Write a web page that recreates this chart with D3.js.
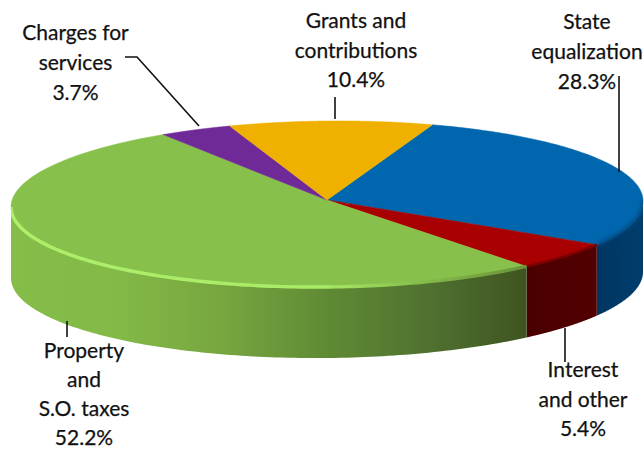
<!DOCTYPE html>
<html>
<head>
<meta charset="utf-8">
<script src="https://cdn.jsdelivr.net/npm/d3@7/dist/d3.min.js"></script>
<style>
html,body{margin:0;padding:0;background:#fff}
svg{display:block}
text{font-family:Lato,"Open Sans",sans-serif;font-size:21px;fill:#111;stroke:#111;stroke-width:0.25px}
</style>
</head>
<body>
<svg id="chart" width="644" height="450"></svg>
<script>
// Revenue shares, listed clockwise from the top of the disc
const categories = ["State equalization", "Interest and other", "Property and S.O. taxes", "Charges for services", "Grants and contributions"];
const shares = [28.3, 5.4, 52.2, 3.7, 10.4];
const topColors = ["#0066ad", "#a80000", "#88c04c", "#702a98", "#f0b000"];

// Label text lines for each category
const labelLines = [
  ["State", "equalization", "28.3%"],
  ["Interest", "and other", "5.4%"],
  ["Property", "and", "S.O. taxes", "52.2%"],
  ["Charges for", "services", "3.7%"],
  ["Grants and", "contributions", "10.4%"]
];

const svg = d3.select("#chart");
const deg = Math.PI / 180;

// Disc geometry: unit circle mapped onto the tilted ellipse
const x = d3.scaleLinear().domain([-1, 1]).range([11, 643]);
const y = d3.scaleLinear().domain([-1, 1]).range([121, 287]);
const tilt = 3;
const depth = 71;
const apex = [327, 200];

const rim = t => [x(Math.sin(t)), y(-Math.cos(t)) - tilt * Math.sin(t)];
const line = d3.line();
const arcPts = (a, b) => d3.range(0, 121).map(i => rim(a + (b - a) * i / 120));

const startDeg = 19.5;
const slices = d3.pie().sort(null).startAngle(startDeg * deg).endAngle((360 + startDeg) * deg)(shares);

const defs = svg.append("defs");
// Horizontal gradients for the wall shading
function gradient(id, x1, x2, stops) {
  const g = defs.append("linearGradient").attr("id", id)
    .attr("gradientUnits", "userSpaceOnUse")
    .attr("x1", x1).attr("x2", x2).attr("y1", 0).attr("y2", 0);
  stops.forEach(([o, c]) => g.append("stop").attr("offset", o).attr("stop-color", c));
}
gradient("wall0", 596, 643, [[0, "#003560"], [1, "#003e6e"]]);
gradient("wall1", 524, 596, [[0, "#4a0000"], [1, "#520000"]]);
gradient("wall2", 11, 524, [[0, "#86bd49"], [0.2, "#83ba47"], [0.42, "#76a53f"], [0.62, "#5f8a34"], [0.82, "#4f7030"], [1, "#3f5520"]]);
gradient("bevel", 11, 526, [[0, "#aef06c"], [0.6, "#aaec68"], [0.78, "#88c04c"], [1, "#6a9239"]]);

// Soft edges for the rim highlight and shading
const soft = defs.append("filter").attr("id", "soft")
  .attr("filterUnits", "userSpaceOnUse").attr("x", 0).attr("y", 0).attr("width", 644).attr("height", 450);
soft.append("feGaussianBlur").attr("stdDeviation", 0.6);
const softer = defs.append("filter").attr("id", "softer")
  .attr("filterUnits", "userSpaceOnUse").attr("x", 0).attr("y", 0).attr("width", 644).attr("height", 450);
softer.append("feGaussianBlur").attr("stdDeviation", 1.6);

// Outline of the whole solid, keeps the soft overlays inside it
const outlineTop = arcPts(90 * deg, 450 * deg);
const outlineWall = arcPts(90 * deg, 270 * deg).map(([px, py]) => [px, py + depth]);
defs.append("clipPath").attr("id", "solid").append("path")
  .attr("d", line(outlineTop) + "Z " + line(arcPts(90 * deg, 270 * deg).concat(outlineWall.slice().reverse())) + "Z");

// Side walls: only the part of the rim facing the viewer
slices.forEach((s, i) => {
  const a = Math.max(s.startAngle, 90 * deg);
  const b = Math.min(s.endAngle, 270 * deg);
  if (a >= b) return;
  const upper = arcPts(a, b);
  const lower = upper.map(([px, py]) => [px, py + depth]).reverse();
  svg.append("path")
    .attr("d", line(upper.concat(lower)) + "Z")
    .attr("fill", `url(#wall${i})`);
});

// Top face of every slice
slices.forEach((s, i) => {
  svg.append("path")
    .attr("d", line([apex].concat(arcPts(s.startAngle, s.endAngle))) + "Z")
    .attr("fill", topColors[i])
    .attr("stroke", topColors[i])
    .attr("stroke-width", 0.5);
});

const overlays = svg.append("g").attr("clip-path", "url(#solid)");

// Rounded shading where the blue and red faces turn into the wall
overlays.append("path")
  .attr("d", line(arcPts(90 * deg, slices[0].endAngle)))
  .attr("fill", "none").attr("stroke", "#02508a").attr("stroke-width", 3.5)
  .attr("filter", "url(#softer)");
overlays.append("path")
  .attr("d", line(arcPts(slices[1].startAngle, slices[1].endAngle)))
  .attr("fill", "none").attr("stroke", "#780000").attr("stroke-width", 2.5)
  .attr("filter", "url(#soft)");

// Raised edge along the front of the large slice: bright on the left, dimming to the right
overlays.append("path")
  .attr("d", line(arcPts(slices[2].startAngle, 270 * deg)))
  .attr("fill", "none")
  .attr("stroke", "url(#bevel)")
  .attr("stroke-width", 3.4)
  .attr("filter", "url(#soft)");

// Leader lines from labels to the disc
const leaders = [
  [[619, 76], [619, 172]],
  [[565, 328], [565, 362]],
  [[67, 321], [67, 337]],
  [[125, 57], [137, 57], [199, 126]],
  [[335, 97], [335, 119]]
];
svg.selectAll("path.leader").data(leaders).join("path")
  .attr("class", "leader")
  .attr("d", d => line(d))
  .attr("fill", "none")
  .attr("stroke", "#111")
  .attr("stroke-width", 1.6);

// Multi-line labels
const labelAnchors = [
  { x: 587, y: 29, step: 30 },
  { x: 583, y: 377, step: 29.5 },
  { x: 84, y: 358, step: 29 },
  { x: 75.5, y: 40, step: 30 },
  { x: 356, y: 28, step: 29.5 }
];
labelLines.forEach((lines, i) => {
  const p = labelAnchors[i];
  const t = svg.append("text").attr("text-anchor", "middle");
  lines.forEach((l, k) => {
    t.append("tspan").attr("x", p.x).attr("y", p.y + k * p.step).text(l);
  });
});
</script>
</body>
</html>
